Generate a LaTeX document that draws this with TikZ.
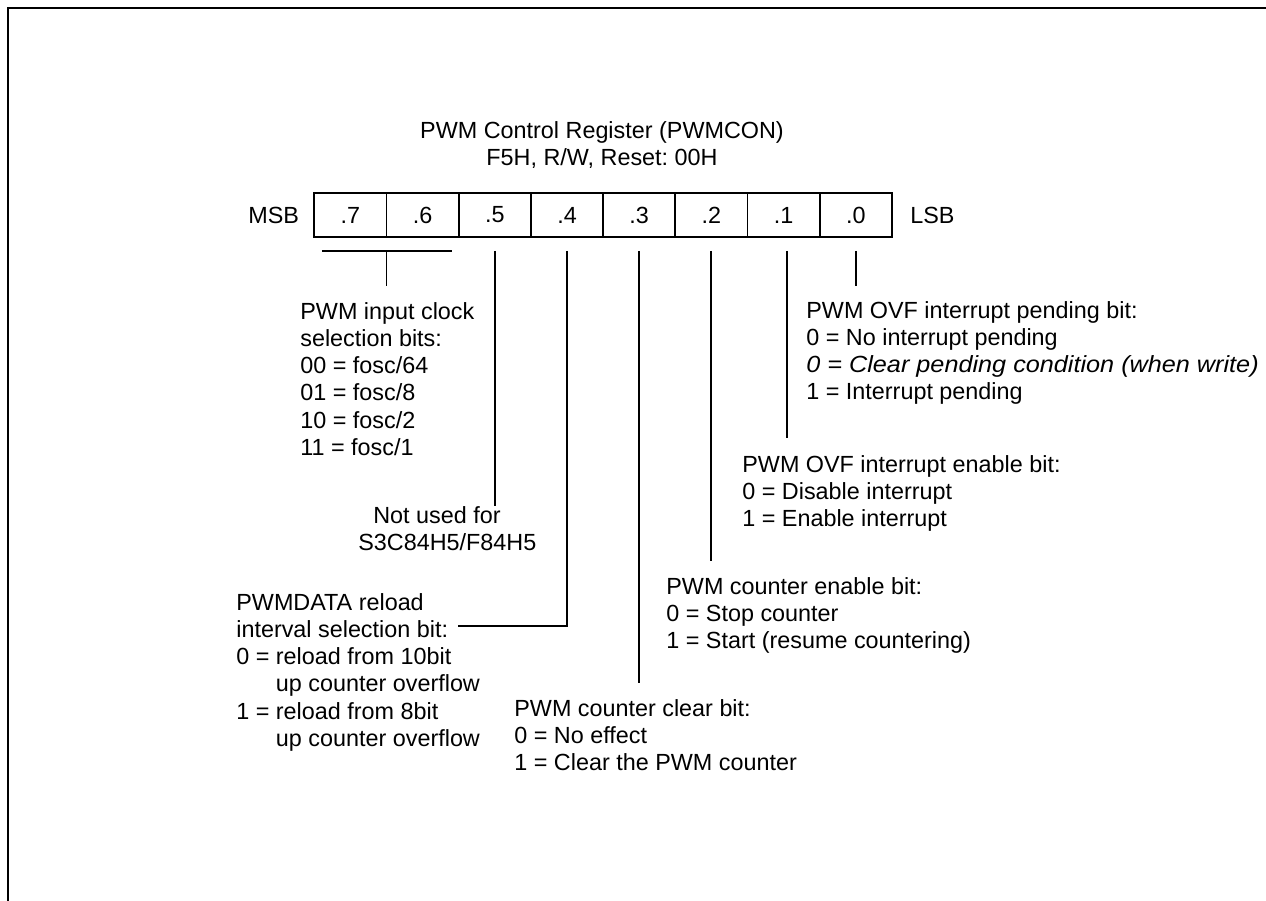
\documentclass[tikz,border=0pt]{standalone}
\usepackage{fontspec}
\setmainfont{Liberation Sans}
\newfontfamily\wideit{Liberation Sans Italic}[FakeStretch=1.08]
\usetikzlibrary{calc, positioning}
\newcommand{\regfont}{\frenchspacing\fontsize{13.3pt}{15.5pt}\selectfont}

\begin{document}
\begin{tikzpicture}[
  x=0.02cm, y=-0.02cm, line cap=butt,
  frameline/.style={black, line width=1.4pt},
  bitcell/.style={draw, line width=1.1pt, minimum width=1.444cm, minimum height=0.88cm,
                  inner sep=0pt, outer sep=0pt, font=\regfont},
  bitline/.style={black, line width=1.1pt},
  lbl/.style={font=\regfont, align=left, anchor=north west, inner sep=0pt},
]
\useasboundingbox (0,0) rectangle (1266,901);

% Frame
\draw[frameline] (8,901) -- (8,8) -- (1266,8);

% Title
\node[font=\regfont, align=center, anchor=north, inner sep=0pt] (title) at (602,121)
  {PWM Control Register (PWMCON)\\F5H, R/W, Reset: 00H};

% Register
\foreach \b [count=\k from 0] in {7,...,0} {
  \node[bitcell] (b\b) at ({350.4+72.2*\k},215) {.\b};
}
\node[font=\regfont, inner sep=0pt, left=0.3cm of b7] (msb) {MSB};
\node[font=\regfont, inner sep=0pt, right=0.36cm of b0] (lsb) {LSB};

% Descriptions
\node[lbl] (clock) at (300,302) {PWM input clock\\selection bits:\\00 = fosc/64\\01 = fosc/8\\10 = fosc/2\\11 = fosc/1};
\node[lbl] (unused) at (358,506) {\hspace*{0.3cm}Not used for\\S3C84H5/F84H5};
\node[lbl] (reload) at (236,593) {PWMDATA reload\\interval selection bit:\\0 = reload from 10bit\\\phantom{0 = }up counter overflow\\1 = reload from 8bit\\\phantom{1 = }up counter overflow};
\node[lbl] (clear) at (514,699) {PWM counter clear bit:\\0 = No effect\\1 = Clear the PWM counter};
\node[lbl] (cnten) at (666,577) {PWM counter enable bit:\\0 = Stop counter\\1 = Start (resume countering)};
\node[lbl] (ovfen) at (742,455) {PWM OVF interrupt enable bit:\\0 = Disable interrupt\\1 = Enable interrupt};
\node[lbl] (pend) at (806,301) {PWM OVF interrupt pending bit:\\0 = No interrupt pending\\{\wideit 0 = Clear pending condition (when write)}\\1 = Interrupt pending};

% Connectors
\draw[bitline] ($(b7.south west)+(0.15cm,-0.28cm)$) -- ($(b6.south east)+(-0.13cm,-0.28cm)$);
\draw[bitline] ($(b7.south east)+(0,-0.28cm)$) -- ($(b7.south east |- clock.north)+(0,0.32cm)$);
\draw[bitline] ($(b5.south)+(0,-0.28cm)$) -- (b5.south |- unused.north);
\coordinate (reloadtip) at (458,626);
\draw[bitline] ($(b4.south)+(0,-0.28cm)$) -- (b4.south |- reloadtip) -- (reloadtip);
\draw[bitline] ($(b3.south)+(0,-0.28cm)$) -- ($(b3.south |- clear.north)+(0,0.32cm)$);
\draw[bitline] ($(b2.south)+(0,-0.28cm)$) -- ($(b2.south |- cnten.north)+(0,0.32cm)$);
\draw[bitline] ($(b1.south)+(0.07cm,-0.28cm)$) -- ($(b1.south |- ovfen.north)+(0.07cm,0.34cm)$);
\draw[bitline] ($(b0.south)+(0,-0.28cm)$) -- ($(b0.south |- pend.north)+(0,0.30cm)$);

\end{tikzpicture}
\end{document}
